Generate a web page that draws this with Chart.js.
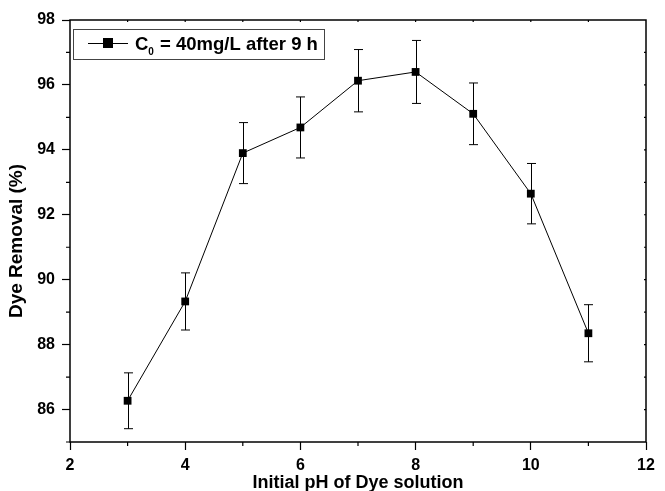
<!DOCTYPE html>
<html>
<head>
<meta charset="utf-8">
<script src="https://cdn.jsdelivr.net/npm/chart.js@4.4.0/dist/chart.umd.min.js"></script>
<style>
  html, body { margin: 0; padding: 0; background: #fff; }
  #wrap { width: 665px; height: 491px; }
</style>
</head>
<body>
<div id="wrap"><canvas id="myChart" width="665" height="491"></canvas></div>
<script>
// initial pH vs dye removal, with standard deviation
var phValues = [3, 4, 5, 6, 7, 8, 9, 10, 11];
var removal = [86.27, 89.33, 93.90, 94.69, 96.13, 96.40, 95.11, 92.65, 88.35];
var removalErr = [0.86, 0.88, 0.94, 0.94, 0.96, 0.97, 0.95, 0.93, 0.88];
var xTicks = [2, 4, 6, 8, 10, 12];
var yTicks = [86, 88, 90, 92, 94, 96, 98];

var FONT = '"Liberation Sans", Arial, sans-serif';

var points = phValues.map(function (x, i) { return { x: x, y: removal[i] }; });

// error bars with caps
var errorBars = {
    id: 'errorBars',
    afterDatasetsDraw: function (chart) {
        var ctx = chart.ctx;
        var xs = chart.scales.x, ys = chart.scales.y;
        ctx.save();
        ctx.strokeStyle = '#000';
        ctx.lineWidth = 1;
        phValues.forEach(function (x, i) {
            var px = Math.round(xs.getPixelForValue(x)) + 0.5;
            var top = ys.getPixelForValue(removal[i] + removalErr[i]);
            var bot = ys.getPixelForValue(removal[i] - removalErr[i]);
            ctx.beginPath();
            ctx.moveTo(px, top); ctx.lineTo(px, bot);
            ctx.moveTo(px - 4.5, top); ctx.lineTo(px + 4.5, top);
            ctx.moveTo(px - 4.5, bot); ctx.lineTo(px + 4.5, bot);
            ctx.stroke();
        });
        ctx.restore();
    }
};

// frame, minor ticks, mirrored ticks and the y title
var frame = {
    id: 'frame',
    afterDraw: function (chart) {
        var ctx = chart.ctx, a = chart.chartArea;
        var xs = chart.scales.x, ys = chart.scales.y;
        ctx.save();
        ctx.strokeStyle = '#000';
        ctx.lineWidth = 1.5;
        ctx.strokeRect(a.left, a.top, a.right - a.left, a.bottom - a.top);
        ctx.lineWidth = 1.2;
        ctx.beginPath();
        for (var v = 3; v < 12; v += 2) {
            var px = xs.getPixelForValue(v);
            ctx.moveTo(px, a.bottom); ctx.lineTo(px, a.bottom + 4);
        }
        for (var w = 85; w <= 97; w += 2) {
            var py = ys.getPixelForValue(w);
            ctx.moveTo(a.left, py); ctx.lineTo(a.left - 4, py);
        }
        for (var u = 3; u < 12; u++) {
            var tx = xs.getPixelForValue(u);
            ctx.moveTo(tx, a.top); ctx.lineTo(tx, a.top + 2);
        }
        for (var k = 86; k < 98; k++) {
            var ty = ys.getPixelForValue(k);
            ctx.moveTo(a.right, ty); ctx.lineTo(a.right - 2, ty);
        }
        ctx.stroke();

        ctx.translate(17, 241);
        ctx.rotate(-Math.PI / 2);
        ctx.fillStyle = '#000';
        ctx.font = 'bold 19px ' + FONT;
        ctx.textAlign = 'center';
        ctx.textBaseline = 'middle';
        ctx.fillText('Dye Removal (%)', 0, 0);
        ctx.restore();
    }
};

// legend box with subscript label
var legendBox = {
    id: 'legendBox',
    afterDraw: function (chart) {
        var ctx = chart.ctx, a = chart.chartArea;
        var x0 = a.left + 3, y0 = a.top + 9, w = 251, h = 30;
        ctx.save();
        ctx.strokeStyle = '#444';
        ctx.lineWidth = 1;
        ctx.strokeRect(x0 + 0.5, y0 + 0.5, w, h);
        var cy = y0 + 14;
        ctx.strokeStyle = '#000';
        ctx.beginPath();
        ctx.moveTo(x0 + 15, cy + 0.5); ctx.lineTo(x0 + 55, cy + 0.5);
        ctx.stroke();
        ctx.fillStyle = '#000';
        ctx.fillRect(x0 + 30, cy - 5, 10, 10);
        ctx.textBaseline = 'alphabetic';
        ctx.textAlign = 'left';
        ctx.font = 'bold 18.5px ' + FONT;
        var tx = x0 + 62, base = cy + 6.5;
        ctx.fillText('C', tx, base);
        tx += ctx.measureText('C').width;
        ctx.font = 'bold 10px ' + FONT;
        ctx.fillText('0', tx, base + 5);
        tx += ctx.measureText('0').width + 1;
        ctx.font = 'bold 18.5px ' + FONT;
        ctx.fillText(' = 40mg/L after 9 h', tx, base);
        ctx.restore();
    }
};

var ctx = document.getElementById('myChart').getContext('2d');

var myChart = new Chart(ctx, {
    type: 'scatter',
    data: {
        datasets: [{
            label: 'C0 = 40mg/L after 9 h',
            data: points,
            showLine: true,
            borderColor: '#000',
            borderWidth: 1,
            backgroundColor: '#000',
            pointStyle: 'rect',
            pointRadius: 5.5,
            pointBorderWidth: 0,
            pointBackgroundColor: '#000'
        }]
    },
    options: {
        responsive: false,
        animation: false,
        layout: { padding: { top: 20, right: 19, left: 0, bottom: 0 } },
        plugins: {
            legend: { display: false },
            tooltip: { enabled: false }
        },
        scales: {
            x: {
                type: 'linear',
                min: 2,
                max: 12,
                afterBuildTicks: function (s) { s.ticks = xTicks.map(function (v) { return { value: v }; }); },
                afterFit: function (s) { s.height = 49; },
                grid: { drawOnChartArea: false, tickLength: 8, tickWidth: 1.2, tickColor: '#000' },
                border: { display: false },
                ticks: {
                    color: '#000',
                    padding: 6,
                    font: { family: FONT, size: 16, weight: 'bold' }
                },
                title: {
                    display: true,
                    text: 'Initial pH of Dye solution',
                    color: '#000',
                    padding: { top: 0, bottom: -3 },
                    font: { family: FONT, size: 18, weight: 'bold' }
                }
            },
            y: {
                min: 85,
                max: 98,
                afterBuildTicks: function (s) { s.ticks = yTicks.map(function (v) { return { value: v }; }); },
                afterFit: function (s) { s.width = 70; },
                grid: { drawOnChartArea: false, tickLength: 8, tickWidth: 1.2, tickColor: '#000' },
                border: { display: false },
                ticks: {
                    color: '#000',
                    padding: 7,
                    font: { family: FONT, size: 16, weight: 'bold' }
                }
            }
        }
    },
    plugins: [errorBars, frame, legendBox]
});
</script>
</body>
</html>
